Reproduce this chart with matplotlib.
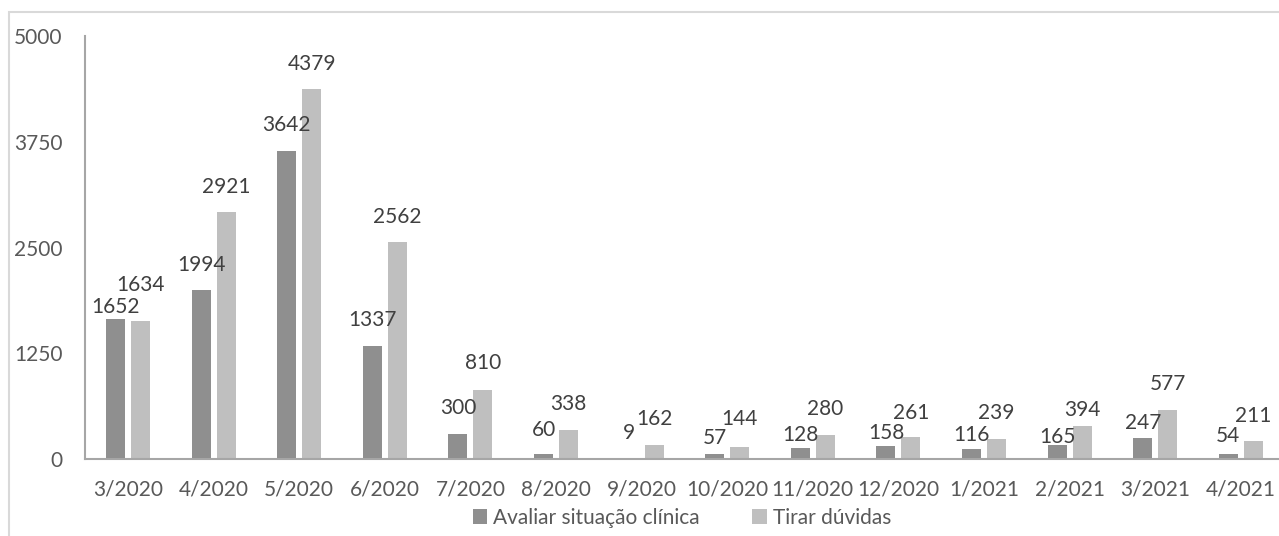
import matplotlib
matplotlib.use("Agg")

import matplotlib.pyplot as plt
import numpy as np
from matplotlib.patches import Rectangle

months = ["3/2020", "4/2020", "5/2020", "6/2020", "7/2020", "8/2020", "9/2020",
          "10/2020", "11/2020", "12/2020", "1/2021", "2/2021", "3/2021", "4/2021"]
avaliar = [1652, 1994, 3642, 1337, 300, 60, 9, 57, 128, 158, 116, 165, 247, 54]
duvidas = [1634, 2921, 4379, 2562, 810, 338, 162, 144, 280, 261, 239, 394, 577, 211]
yticks = [0, 1250, 2500, 3750, 5000]

# label heights above bar top (pixels), the original's labels were placed by hand
lift1 = [12, 25, 26, 26, 26, 24, 25, 16, 13, 13, 14, 8, 15, 18]
lift2 = [36, 25, 25, 25, 27, 26, 26, 28, 26, 24, 26, 16, 26, 25]

DARK = "#8f8f8f"
LIGHT = "#bfbfbf"
TXT = "#595959"
FS = 15

plt.rcParams["font.family"] = ["Lato", "DejaVu Sans"]

fig = plt.figure(figsize=(12.79, 5.36), dpi=100)
ax = fig.add_axes([85.2 / 1279, 1 - 459 / 536, (1283.6 - 85.2) / 1279, (459 - 36) / 536])

# light frame round the chart, cut off at right and bottom like the original
fig.patches.append(Rectangle((9 / 1279, -0.1), 1.2, 1 - 12 / 536 + 0.1,
                             transform=fig.transFigure, fill=False,
                             edgecolor="#d9d9d9", linewidth=1.5))

x = np.arange(len(months))
w = 0.222
off = 0.146
b1 = ax.bar(x - off, avaliar, w, color=DARK, label="Avaliar situação clínica")
b2 = ax.bar(x + off, duvidas, w, color=LIGHT, label="Tirar dúvidas")

ax.set_xlim(-0.5, len(months) - 0.5)
ax.set_ylim(0, 5000)
ax.set_yticks(yticks)
ax.set_yticklabels([str(t) for t in yticks])
ax.set_xticks(x)
ax.set_xticklabels(months)
ax.tick_params(length=0, labelsize=FS, colors=TXT)
ax.tick_params(axis="y", pad=16.5)
ax.tick_params(axis="x", pad=15)

for s in ["top", "right"]:
    ax.spines[s].set_visible(False)
ax.spines["left"].set_color("#a6a6a6")
ax.spines["bottom"].set_color("#a6a6a6")
ax.spines["left"].set_linewidth(1.5)
ax.spines["bottom"].set_linewidth(1.5)

px = 72 / 100
for i in range(len(months)):
    ax.annotate(str(avaliar[i]), (x[i] - off, avaliar[i]), xytext=(0, lift1[i] * px),
                textcoords="offset points", ha="center", va="center",
                fontsize=FS, color="#404040")
    ax.annotate(str(duvidas[i]), (x[i] + off, duvidas[i]), xytext=(0, lift2[i] * px),
                textcoords="offset points", ha="center", va="center",
                fontsize=FS, color="#404040")

fig.legend(handles=[b1, b2], loc="center", bbox_to_anchor=(682 / 1279, 1 - 518 / 536),
           ncol=2, frameon=False, fontsize=FS, labelcolor=TXT,
           handlelength=0.7, handleheight=0.7, handletextpad=0.3, columnspacing=2.5)

fig.savefig("out.png", dpi=100)
